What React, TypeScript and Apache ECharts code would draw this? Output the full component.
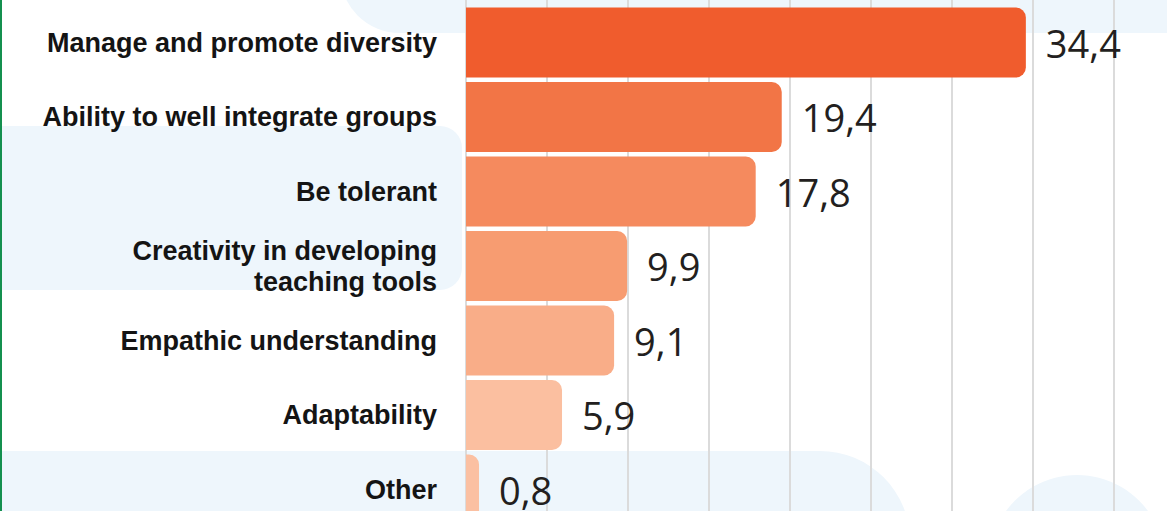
import React, { useEffect, useRef } from "react";
import * as echarts from "echarts";

const categories = [
  "Manage and promote diversity",
  "Ability to well integrate groups",
  "Be tolerant",
  "Creativity in developing\nteaching tools",
  "Empathic understanding",
  "Adaptability",
  "Other",
];
const values = [34.4, 19.4, 17.8, 9.9, 9.1, 5.9, 0.8];
const barColors = ["#F05C2D", "#F27546", "#F58A5E", "#F79C71", "#F9AD88", "#FBBFA0", "#FBC0A2"];
const axisMin = 0;
const axisMax = 40;
const axisInterval = 5;

const W = 1167;
const H = 530;
const BG_BLUE = "#EEF6FC";

export default function App() {
  const ref = useRef<HTMLDivElement>(null);
  useEffect(() => {
    if (!ref.current) return;
    const chart = echarts.init(ref.current, null, { renderer: "svg" });
    const left = 466;
    const top0 = 5.25;
    const band = 74.5;
    chart.setOption({
      animation: false,
      backgroundColor: "#ffffff",
      graphic: [
        { type: "rect", z: -10, shape: { x: 340, y: -100, width: 900, height: 133, r: [0, 0, 0, 60] }, style: { fill: BG_BLUE } },
        { type: "rect", z: -10, shape: { x: -50, y: 126, width: 512, height: 164, r: [0, 22, 22, 0] }, style: { fill: BG_BLUE } },
        { type: "rect", z: -10, shape: { x: -50, y: 451, width: 960, height: 250, r: [0, 90, 0, 0] }, style: { fill: BG_BLUE } },
        { type: "circle", z: -10, shape: { cx: 1077, cy: 563, r: 88 }, style: { fill: BG_BLUE } },
        { type: "rect", z: 10, shape: { x: 0, y: 0, width: 2, height: H }, style: { fill: "#14904F" } },
      ],
      grid: [
        { left, right: W - 1117, top: top0, height: band * categories.length },
        { left, right: W - 1114, top: 0, bottom: 0 },
      ],
      xAxis: [
        {
          gridIndex: 0,
          type: "value",
          min: axisMin,
          max: axisMax,
          interval: axisInterval,
          axisLine: { show: false },
          axisTick: { show: false },
          axisLabel: { show: false },
          splitLine: { show: false },
        },
        {
          gridIndex: 1,
          type: "value",
          min: axisMin,
          max: axisMax,
          interval: axisInterval,
          axisLine: { show: false },
          axisTick: { show: false },
          axisLabel: { show: false },
          splitLine: { show: true, lineStyle: { color: "#DBDBDB", width: 2 } },
        },
      ],
      yAxis: [
        {
          gridIndex: 0,
          type: "category",
          data: categories,
          inverse: true,
          axisLine: { show: false },
          axisTick: { show: false },
          axisLabel: {
            margin: 29,
            fontFamily: "Liberation Sans, Arial, sans-serif",
            fontWeight: "bold",
            fontSize: 27,
            lineHeight: 31,
            color: "#141414",
            align: "right",
            padding: [0, 0, 3, 0],
          },
        },
        { gridIndex: 1, type: "value", min: 0, max: 1, show: false },
      ],
      series: [
        {
          type: "bar",
          xAxisIndex: 0,
          yAxisIndex: 0,
          barWidth: 70,
          data: values.map((v, i) => ({ value: v, itemStyle: { color: barColors[i] } })),
          itemStyle: { borderRadius: [0, 10, 10, 0] },
          label: {
            show: true,
            position: "right",
            distance: 20,
            fontFamily: "Open Sans, sans-serif",
            fontSize: 38,
            lineHeight: 38,
            color: "#231F20",
            formatter: (p: any) => String(p.value).replace(".", ","),
          },
        },
      ],
    });
    return () => chart.dispose();
  }, []);
  return (
    <div style={{ position: "fixed", left: 0, top: 0, width: W, height: 511, overflow: "hidden" }}>
      <div ref={ref} style={{ width: W, height: H }} />
    </div>
  );
}
